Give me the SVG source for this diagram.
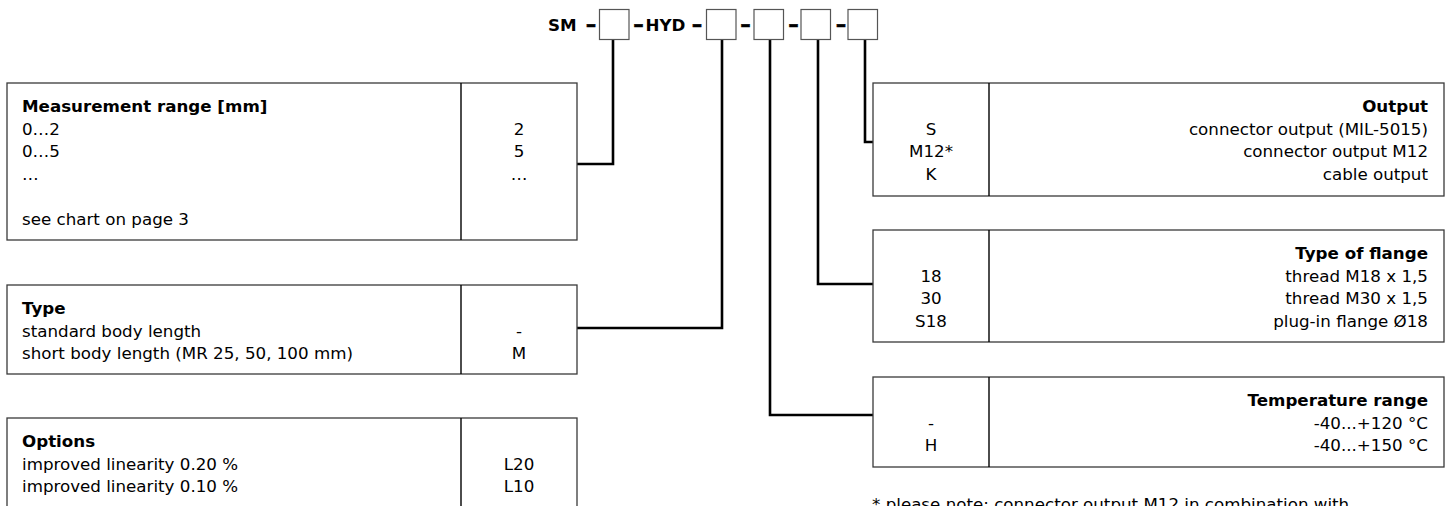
<svg xmlns="http://www.w3.org/2000/svg" width="1451" height="506" viewBox="0 0 1451 506">
<style>
.t{font-family:"DejaVu Sans",sans-serif;font-size:16.7px;fill:#000}
.b{font-weight:bold}
.m{text-anchor:middle}
.e{text-anchor:end}
.d{font-family:"DejaVu Sans",sans-serif;font-weight:bold;font-size:21px;text-anchor:middle;fill:#000;stroke:#000;stroke-width:0.5}
.box{fill:#fff;stroke:#3a3a3a;stroke-width:1.3}
.sq{fill:#fff;stroke:#555;stroke-width:1.2}
.dv{stroke:#000;stroke-width:1.4}
.conn{fill:none;stroke:#000;stroke-width:2.6}
</style>
<rect width="1451" height="506" fill="#fff"/>
<g id="connectors">
<path class="conn" d="M613,40 V164 H577"/>
<path class="conn" d="M722,40 V328 H577"/>
<path class="conn" d="M770,40 V415 H873"/>
<path class="conn" d="M818,40 V284 H873"/>
<path class="conn" d="M865,40 V142 H873"/>
</g>
<g id="code">
<text class="t b" x="548" y="31" font-size="17.5">SM</text>
<text class="d" x="591" y="31.5">–</text>
<rect class="sq" x="599.5" y="9.5" width="29.5" height="30"/>
<text class="d" x="638.5" y="31.5">–</text>
<text class="t b" x="645.5" y="31" font-size="17.5">HYD</text>
<text class="d" x="697" y="31.5">–</text>
<rect class="sq" x="706.5" y="9.5" width="29.5" height="30"/>
<text class="d" x="745.5" y="31.5">–</text>
<rect class="sq" x="754" y="9.5" width="29.5" height="30"/>
<text class="d" x="793.5" y="31.5">–</text>
<rect class="sq" x="801" y="9.5" width="29.5" height="30"/>
<text class="d" x="841" y="31.5">–</text>
<rect class="sq" x="848" y="9.5" width="29.5" height="30"/>
</g>
<g id="measurement-range">
<rect class="box" x="7" y="83" width="570" height="157"/>
<line class="dv" x1="461" y1="83" x2="461" y2="240"/>
<text class="t b" x="22" y="112">Measurement range [mm]</text>
<text class="t" x="22" y="134.5">0…2</text>
<text class="t" x="22" y="157">0…5</text>
<text class="t" x="22" y="179.5">…</text>
<text class="t" x="22" y="224.5">see chart on page 3</text>
<text class="t m" x="519" y="134.5">2</text>
<text class="t m" x="519" y="157">5</text>
<text class="t m" x="519" y="179.5">…</text>
</g>
<g id="type">
<rect class="box" x="7" y="285" width="570" height="89"/>
<line class="dv" x1="461" y1="285" x2="461" y2="374"/>
<text class="t b" x="22" y="314">Type</text>
<text class="t" x="22" y="336.5">standard body length</text>
<text class="t" x="22" y="359">short body length (MR 25, 50, 100 mm)</text>
<text class="t m" x="519" y="336.5">-</text>
<text class="t m" x="519" y="359">M</text>
</g>
<g id="options">
<rect class="box" x="7" y="418" width="570" height="120"/>
<line class="dv" x1="461" y1="418" x2="461" y2="538"/>
<text class="t b" x="22" y="447">Options</text>
<text class="t" x="22" y="469.5">improved linearity 0.20 %</text>
<text class="t" x="22" y="492">improved linearity 0.10 %</text>
<text class="t m" x="519" y="469.5">L20</text>
<text class="t m" x="519" y="492">L10</text>
</g>
<g id="output">
<rect class="box" x="873" y="83" width="571" height="113"/>
<line class="dv" x1="989" y1="83" x2="989" y2="196"/>
<text class="t b e" x="1428" y="112">Output</text>
<text class="t e" x="1428" y="134.5">connector output (MIL-5015)</text>
<text class="t e" x="1428" y="157">connector output M12</text>
<text class="t e" x="1428" y="179.5">cable output</text>
<text class="t m" x="931" y="134.5">S</text>
<text class="t m" x="931" y="157">M12*</text>
<text class="t m" x="931" y="179.5">K</text>
</g>
<g id="flange">
<rect class="box" x="873" y="230" width="571" height="112"/>
<line class="dv" x1="989" y1="230" x2="989" y2="342"/>
<text class="t b e" x="1428" y="259">Type of flange</text>
<text class="t e" x="1428" y="281.5">thread M18 x 1,5</text>
<text class="t e" x="1428" y="304">thread M30 x 1,5</text>
<text class="t e" x="1428" y="326.5">plug-in flange Ø18</text>
<text class="t m" x="931" y="281.5">18</text>
<text class="t m" x="931" y="304">30</text>
<text class="t m" x="931" y="326.5">S18</text>
</g>
<g id="temperature">
<rect class="box" x="873" y="377" width="571" height="90"/>
<line class="dv" x1="989" y1="377" x2="989" y2="467"/>
<text class="t b e" x="1428" y="406">Temperature range</text>
<text class="t e" x="1428" y="428.5">-40...+120 °C</text>
<text class="t e" x="1428" y="451">-40...+150 °C</text>
<text class="t m" x="931" y="428.5">-</text>
<text class="t m" x="931" y="451">H</text>
</g>
<g id="note">
<text class="t" x="872" y="510">* please note: connector output M12 in combination with</text>
</g>
</svg>
